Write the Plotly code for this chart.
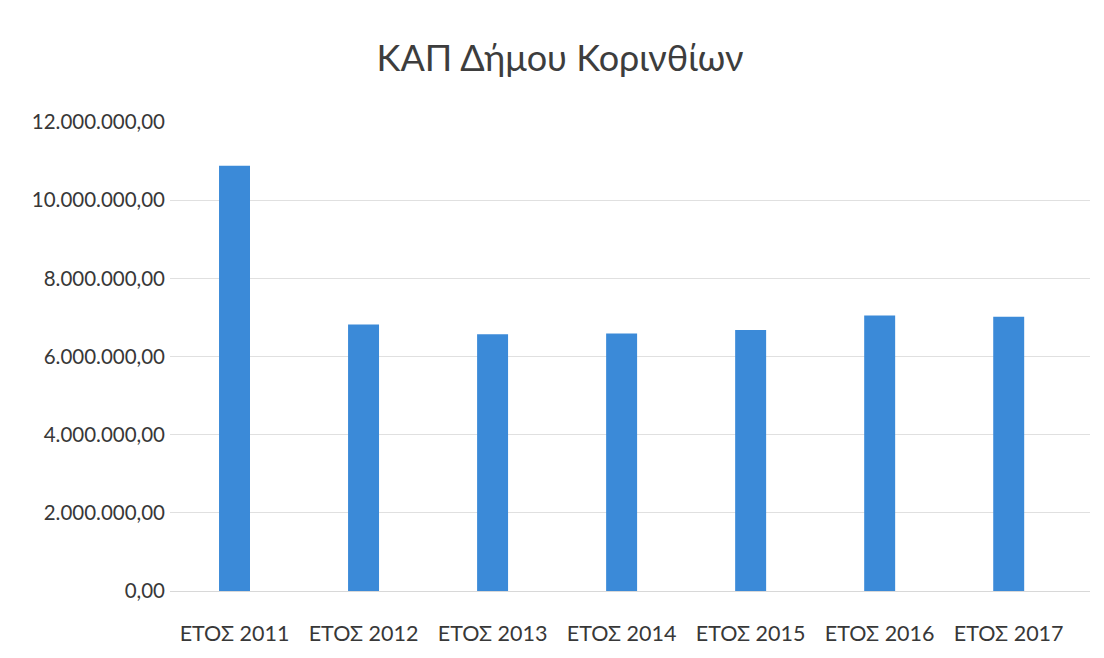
import plotly.graph_objects as go

years = ["ΕΤΟΣ 2011", "ΕΤΟΣ 2012", "ΕΤΟΣ 2013", "ΕΤΟΣ 2014",
         "ΕΤΟΣ 2015", "ΕΤΟΣ 2016", "ΕΤΟΣ 2017"]
kap_values = [10880000, 6820000, 6570000, 6590000, 6680000, 7050000, 7020000]
tick_vals = [0, 2000000, 4000000, 6000000, 8000000, 10000000, 12000000]

FONT = "Lato, 'Open Sans', sans-serif"

fig = go.Figure()
fig.add_trace(go.Bar(x=years, y=kap_values, marker_color="#3b8ad8",
                     marker_line_width=0))

fig.update_layout(
    width=1104, height=658,
    title=dict(text="ΚΑΠ Δήμου Κορινθίων", x=0.5, xanchor="center",
               y=0.924, yanchor="middle",
               font=dict(family=FONT, size=36, color="#3d3d3d")),
    separators=",.",
    bargap=0.76,
    plot_bgcolor="white", paper_bgcolor="white",
    margin=dict(l=162, r=22, t=114, b=75),
    showlegend=False,
    font=dict(family=FONT, size=20, color="#383838"),
)
fig.update_xaxes(showgrid=False, showline=False, ticks="", ticklabelstandoff=27,
                 range=[-0.5, 6.63], tickfont=dict(size=21.5))
fig.update_yaxes(range=[0, 12000000], tickvals=tick_vals, tickformat=",.2f",
                 showgrid=True, gridcolor="#e0e0e0", gridwidth=1,
                 zeroline=True, zerolinecolor="#d8d8d8", zerolinewidth=1,
                 showline=False, ticks="", ticklabelstandoff=4,
                 tickfont=dict(size=20.5))

fig.write_html("out.html")
